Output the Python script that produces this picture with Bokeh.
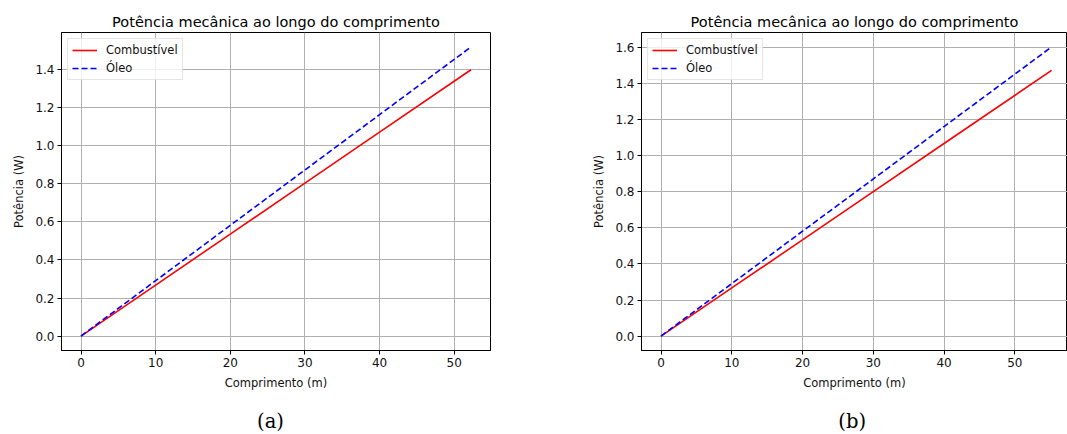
from bokeh.plotting import figure
from bokeh.layouts import row, column
from bokeh.models import Range1d, FixedTicker, PrintfTickFormatter, Legend, LegendItem
from bokeh.core.properties import value
from bokeh.embed import file_html
from bokeh.resources import INLINE

# ---- data ----
title_text = "Potência mecânica ao longo do comprimento"
x_label = "Comprimento (m)"
y_label = "Potência (W)"
series_names = ["Combustível", "Óleo"]

x_a = [0, 10, 20, 30, 40, 52.25]
comb_a = [0.0, 0.268, 0.536, 0.804, 1.072, 1.40]
oleo_a = [0.0, 0.291, 0.582, 0.873, 1.164, 1.52]

x_b = [0, 10, 20, 30, 40, 55.2]
comb_b = [0.0, 0.267, 0.534, 0.802, 1.069, 1.475]
oleo_b = [0.0, 0.291, 0.582, 0.872, 1.163, 1.605]

x_ticks = [0, 10, 20, 30, 40, 50]
y_ticks_a = [0.0, 0.2, 0.4, 0.6, 0.8, 1.0, 1.2, 1.4]
y_ticks_b = [0.0, 0.2, 0.4, 0.6, 0.8, 1.0, 1.2, 1.4, 1.6]
panel_labels = ["(a)", "(b)"]

FONT = "DejaVu Sans"
MAIN_H = 404
STRIP_H = 30


def make_panel(x, comb, oleo, yticks, width, bl, br, x_end):
    xmax = max(x)
    ymax = max(max(comb), max(oleo))
    p = figure(width=width, height=MAIN_H, output_backend="svg", toolbar_location=None,
               min_border_left=bl, min_border_right=br, min_border_top=32, min_border_bottom=54,
               x_range=Range1d(-0.05 * xmax, x_end if x_end else 1.05 * xmax),
               y_range=Range1d(-0.05 * ymax, 1.05 * ymax))
    p.background_fill_color = "white"
    p.border_fill_color = "white"
    p.outline_line_color = "black"
    p.outline_line_width = 1
    p.outline_line_alpha = 1

    p.title.text = title_text
    p.title.align = "center"
    p.title.text_font = FONT
    p.title.text_font_size = "14.5px"
    p.title.text_font_style = "normal"
    p.title.text_color = "black"
    p.title.standoff = 6

    for ax in (p.xaxis[0], p.yaxis[0]):
        ax.axis_line_color = "black"
        ax.major_tick_line_color = "black"
        ax.major_tick_out = 4
        ax.major_tick_in = 0
        ax.minor_tick_line_color = None
        ax.major_label_text_font = FONT
        ax.major_label_text_font_size = "12px"
        ax.major_label_text_color = "#111111"
        ax.axis_label_text_font = FONT
        ax.axis_label_text_font_size = "11.5px"
        ax.axis_label_text_font_style = "normal"
        ax.axis_label_text_color = "#111111"
        ax.major_label_standoff = 3
        ax.axis_label_standoff = 6

    p.xaxis.ticker = FixedTicker(ticks=x_ticks)
    p.yaxis.ticker = FixedTicker(ticks=yticks)
    p.yaxis.formatter = PrintfTickFormatter(format="%.1f")
    p.xaxis.axis_label = x_label
    p.yaxis.axis_label = y_label

    for g in (p.xgrid, p.ygrid):
        g.grid_line_color = "#b0b0b0"
        g.grid_line_width = 1

    r1 = p.line(x, comb, line_color="#ff0000", line_width=1.6)
    r2 = p.line(x, oleo, line_color="#0000ff", line_width=1.6, line_dash="6 3")

    legend = Legend(items=[LegendItem(label=series_names[0], renderers=[r1]),
                           LegendItem(label=series_names[1], renderers=[r2])],
                    location="top_left")
    legend.label_text_font = FONT
    legend.label_text_font_size = "11.5px"
    legend.label_text_color = "#111111"
    legend.border_line_color = "#cccccc"
    legend.background_fill_alpha = 0.8
    legend.margin = 6
    legend.padding = 4
    legend.spacing = 4
    legend.glyph_width = 25
    legend.glyph_height = 14
    legend.label_height = 14
    legend.label_standoff = 9
    p.add_layout(legend)
    return p


def make_strip(width, label, cx):
    s = figure(width=width, height=STRIP_H, output_backend="svg", toolbar_location=None,
               min_border=0, x_range=Range1d(0, width), y_range=Range1d(0, STRIP_H))
    s.axis.visible = False
    s.grid.visible = False
    s.outline_line_color = None
    s.background_fill_color = "white"
    s.border_fill_color = "white"
    s.text(x=[cx], y=[13], text=[label], text_align="center", text_baseline="middle",
           text_font=value("DejaVu Serif"), text_font_size="19.5px", text_color="black")
    return s


pa = make_panel(x_a, comb_a, oleo_a, y_ticks_a, 530, 61, 40, None)
pb = make_panel(x_b, comb_b, oleo_b, y_ticks_b, 537, 111, 0, 57.45)
sa = make_strip(530, panel_labels[0], 270)
sb = make_strip(537, panel_labels[1], 321.7)

layout = column(row(pa, pb), row(sa, sb))
open("out.html", "w").write(file_html(layout, INLINE))
